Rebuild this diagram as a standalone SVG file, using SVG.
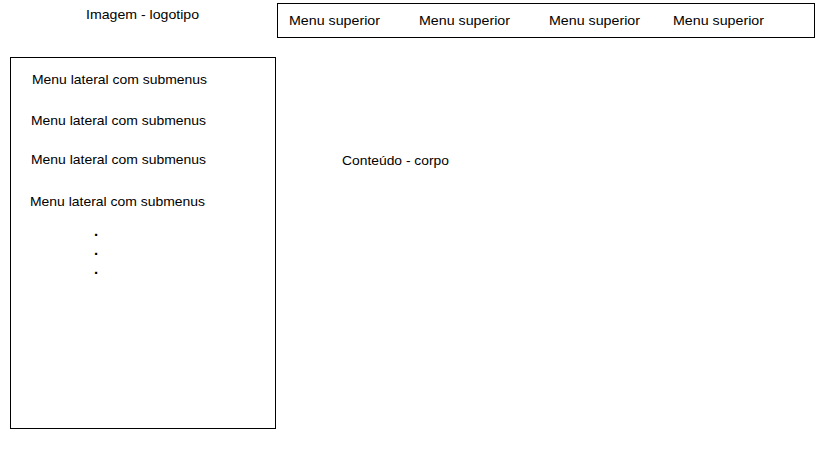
<svg xmlns="http://www.w3.org/2000/svg" width="819" height="460" viewBox="0 0 819 460">
<style>
text{font-family:"Liberation Sans",Arial,sans-serif;font-size:13.5px;fill:#000}
.dot{font-size:15px;font-weight:bold}
.box{fill:#fff;stroke:#000;stroke-width:1}
</style>
<rect width="819" height="460" fill="#fff"/>
<g id="logo"><text x="86" y="19" textLength="113" lengthAdjust="spacingAndGlyphs">Imagem - logotipo</text></g>
<g id="top-menu">
<rect class="box" x="277.5" y="3.5" width="537" height="34"/>
<text x="289" y="25" textLength="91" lengthAdjust="spacingAndGlyphs">Menu superior</text>
<text x="419" y="25" textLength="91" lengthAdjust="spacingAndGlyphs">Menu superior</text>
<text x="549" y="25" textLength="91" lengthAdjust="spacingAndGlyphs">Menu superior</text>
<text x="673" y="25" textLength="91" lengthAdjust="spacingAndGlyphs">Menu superior</text>
</g>
<g id="side-menu">
<rect class="box" x="10.5" y="57.5" width="265" height="371"/>
<text x="32" y="84" textLength="175" lengthAdjust="spacingAndGlyphs">Menu lateral com submenus</text>
<text x="31" y="125" textLength="175" lengthAdjust="spacingAndGlyphs">Menu lateral com submenus</text>
<text x="31" y="164" textLength="175" lengthAdjust="spacingAndGlyphs">Menu lateral com submenus</text>
<text x="30" y="206" textLength="175" lengthAdjust="spacingAndGlyphs">Menu lateral com submenus</text>
<text class="dot" x="94" y="236">.</text>
<text class="dot" x="94" y="255">.</text>
<text class="dot" x="94" y="274">.</text>
</g>
<g id="content"><text x="342" y="165" textLength="107" lengthAdjust="spacingAndGlyphs">Conteúdo - corpo</text></g>
<g id="connectors"></g>
</svg>
